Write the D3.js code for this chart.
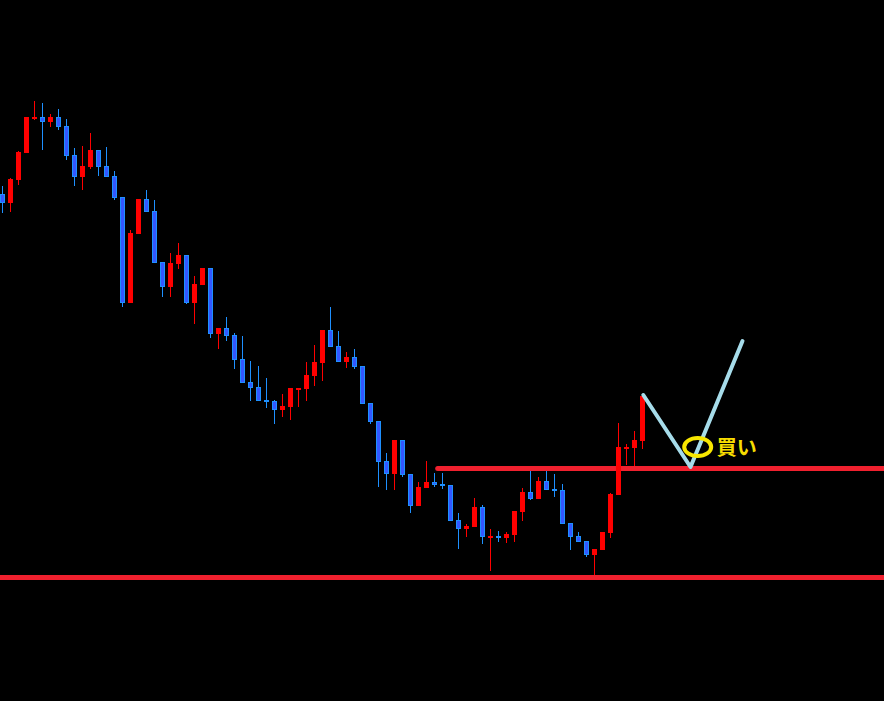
<!DOCTYPE html>
<meta charset="utf-8">
<style>
  body { margin: 0; background: #000; }
  svg { display: block; background: #000; }
  .buy { font-family: "Noto Sans CJK JP", sans-serif; font-weight: bold; font-size: 20px; fill: #f7dc00; }
</style>
<svg width="884" height="701"></svg>
<script src="https://d3js.org/d3.v7.min.js"></script>
<script>

// ohlc per bar, price units
var opens  = [506,497,520,547,582,583,578,583,574,545,523,533,550,534,524,503,397,466,501,489,
              438,413,436,445,397,415,432,366,372,365,341,318,313,300,299,290,293,311,311,324,
              337,370,354,338,343,334,297,279,239,226,260,226,194,212,218,216,215,180,171,173,
              193,163,164,162,165,188,208,201,219,211,210,177,164,159,145,150,167,205,252,252,259];
var highs  = [514,522,549,583,599,597,586,591,581,552,554,567,550,553,529,503,470,501,510,500,
              438,447,457,445,424,432,432,372,383,367,364,339,334,322,300,306,312,312,338,355,
              370,393,369,348,351,334,297,279,247,260,260,226,218,239,227,227,215,187,176,202,
              195,171,169,168,189,212,229,223,229,226,216,177,168,159,151,168,207,277,256,269,306];
var lows   = [487,488,515,547,580,550,573,570,540,514,510,531,524,523,500,393,397,466,488,437,
              403,403,431,396,376,415,362,351,359,331,317,299,299,292,276,283,280,293,299,314,
              319,353,338,332,331,296,276,213,210,210,223,187,194,212,213,211,179,151,163,173,
              156,129,158,157,158,179,200,201,210,203,176,150,158,143,125,150,162,205,235,234,251];
var closes = [497,521,548,583,583,578,583,573,544,523,534,550,533,523,502,397,467,501,488,437,
              413,437,445,397,416,432,366,372,364,340,317,312,299,298,290,294,312,312,325,338,
              370,353,338,343,333,296,278,238,226,260,225,194,213,218,215,214,179,171,174,193,
              163,164,162,166,189,208,201,219,210,209,176,163,158,145,151,168,206,253,253,260,304];

var supportLevel = 122.5;
var resistLevel = 231.5;
var resistStart = 54.4;
var scenario = [[80.1, 305], [86, 233], [92.5, 359]];
var buyMark = [86.9, 253];
var buyLabel = "買い";

var svg = d3.select("svg"),
    width = +svg.attr("width"),
    height = +svg.attr("height");

var x = d3.scaleLinear().domain([0, 110]).range([2.5, 882.5]);
var y = d3.scaleLinear().domain([0, 700]).range([700, 0]);

var bars = opens.map(function(o, i) {
  return {i: i, o: o, h: highs[i], l: lows[i], c: closes[i]};
});

// horizontal levels
svg.append("line")
    .attr("x1", 0).attr("x2", width)
    .attr("y1", y(supportLevel)).attr("y2", y(supportLevel))
    .attr("stroke", "#f0202e").attr("stroke-width", 5);
svg.append("line")
    .attr("x1", x(resistStart)).attr("x2", width)
    .attr("y1", y(resistLevel)).attr("y2", y(resistLevel))
    .attr("stroke", "#f0202e").attr("stroke-width", 5)
    .attr("stroke-linecap", "round");

var g = svg.append("g");

g.selectAll("line.wick")
    .data(bars)
  .enter().append("line")
    .attr("class", "wick")
    .attr("x1", function(d) { return Math.floor(x(d.i)) + 0.5; })
    .attr("x2", function(d) { return Math.floor(x(d.i)) + 0.5; })
    .attr("y1", function(d) { return Math.round(y(d.h)); })
    .attr("y2", function(d) { return Math.round(y(d.l)); })
    .attr("stroke", function(d) { return d.c >= d.o ? "#ff0000" : "#1e90ff"; })
    .attr("stroke-width", 1);

g.selectAll("rect.body")
    .data(bars)
  .enter().append("rect")
    .attr("class", "body")
    .each(function(d) {
      var up = d.c >= d.o;
      var top = Math.round(y(Math.max(d.o, d.c)));
      var bot = Math.round(y(Math.min(d.o, d.c)));
      var h = Math.max(bot - top, 2);
      var left = Math.floor(x(d.i)) - 2;
      var r = d3.select(this);
      if (up) {
        r.attr("x", left).attr("y", top).attr("width", 5).attr("height", h)
         .attr("fill", "#ff0000");
      } else {
        r.attr("x", left + 0.5).attr("y", top + 0.5).attr("width", 4).attr("height", h - 1)
         .attr("fill", "#3357ff").attr("stroke", "#1e90ff").attr("stroke-width", 1);
      }
    });

// expected move
svg.append("path")
    .datum(scenario)
    .attr("d", d3.line().x(function(d) { return x(d[0]); }).y(function(d) { return y(d[1]); }))
    .attr("fill", "none")
    .attr("stroke", "#a6dcea")
    .attr("stroke-width", 4)
    .attr("stroke-linejoin", "round")
    .attr("stroke-linecap", "round");

svg.append("ellipse")
    .attr("cx", x(buyMark[0])).attr("cy", y(buyMark[1]))
    .attr("rx", 13.5).attr("ry", 9)
    .attr("fill", "none")
    .attr("stroke", "#f7e600")
    .attr("stroke-width", 4);

svg.append("text")
    .attr("class", "buy")
    .attr("x", x(buyMark[0]) + 19)
    .attr("y", y(buyMark[1]) + 8)
    .text(buyLabel);

</script>
